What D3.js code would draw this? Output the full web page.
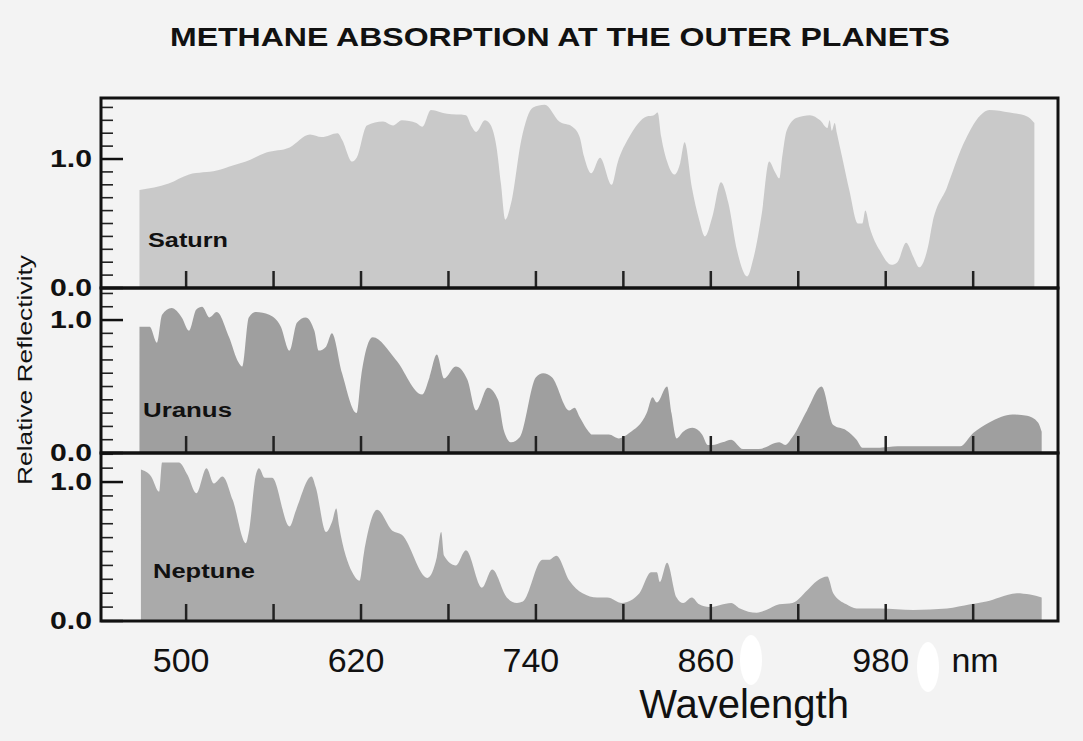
<!DOCTYPE html>
<html>
<head>
<meta charset="utf-8">
<script src="https://cdn.jsdelivr.net/npm/d3@7"></script>
<style>
  html, body { margin: 0; padding: 0; background: #f3f3f3; }
  svg { display: block; }
  text { font-family: "Liberation Sans", Arial, sans-serif; fill: #111; }
</style>
</head>
<body>
<svg id="chart" width="1083" height="741"></svg>
<script>
// Reflectivity spectra: [wavelength nm, relative reflectivity]
const saturn = [
  [468,0.76],[488,0.81],[502,0.88],[521,0.91],[532,0.95],[541,0.98],[555,1.05],[571,1.09],
  [585,1.19],[593,1.17],[604,1.20],[607,1.15],[614,0.98],[617,1.01],[624,1.26],[635,1.29],
  [642,1.26],[648,1.30],[658,1.28],[662,1.25],[668,1.38],[679,1.35],[692,1.34],[696,1.25],
  [699,1.21],[705,1.30],[708,1.28],[713,1.09],[716,0.81],[719,0.53],[723,0.66],[730,1.15],
  [738,1.40],[746,1.42],[756,1.29],[765,1.25],[770,1.17],[773,1.02],[778,0.89],[784,1.01],
  [792,0.80],[796,0.97],[804,1.17],[816,1.33],[821,1.34],[823.5,1.36],[826,1.17],[830,0.98],
  [835,0.88],[839,0.97],[842,1.13],[847,0.78],[852,0.53],[856,0.40],[861,0.55],[867,0.82],
  [872,0.66],[878,0.29],[885,0.09],[889,0.22],[895,0.58],[900,0.98],[904,0.90],[907,0.85],
  [909,1.02],[912,1.22],[919,1.32],[928,1.34],[935,1.30],[940,1.24],[941.5,1.30],[943,1.22],
  [945,1.28],[946.5,1.20],[950,1.02],[955,0.76],[961,0.50],[964,0.50],[966,0.60],[969,0.47],
  [976,0.29],[984,0.18],[988,0.20],[994,0.35],[999,0.24],[1003,0.16],[1009,0.32],[1012,0.50],
  [1022,0.78],[1033,1.11],[1045,1.34],[1051,1.38],[1065,1.36],[1077,1.33],[1082,1.28]
];

const uranus = [
  [468,0.95],[475,0.95],[480,0.83],[483.5,1.04],[490,1.09],[497,1.02],[502,0.92],[507,1.08],
  [511,1.10],[516,1.02],[521,1.06],[529.5,0.87],[536,0.68],[538.5,0.65],[543,1.02],[548,1.06],
  [557,1.04],[565,0.95],[571,0.77],[576,0.98],[582,1.02],[588,0.92],[591,0.77],[596,0.80],
  [600,0.90],[607,0.60],[617,0.30],[620,0.57],[628,0.87],[644,0.70],[662,0.44],[667,0.57],
  [672,0.74],[677,0.56],[685,0.65],[693,0.55],[699,0.32],[707,0.49],[714,0.40],[718,0.17],
  [723,0.08],[729,0.12],[740,0.57],[745,0.60],[751,0.57],[763,0.32],[766.5,0.34],[770,0.27],[777,0.15],
  [778,0.14],[790,0.14],[797,0.11],[804,0.15],[816,0.30],[820,0.42],[823,0.38],[830,0.50],
  [833,0.30],[836.5,0.11],[841,0.16],[847.5,0.19],[854,0.14],[858,0.06],[861,0.06],[868,0.08],
  [874,0.10],[882,0.03],[893,0.03],[907,0.08],[911,0.06],[916,0.12],[926,0.32],[936,0.50],
  [944,0.21],[953,0.17],[960,0.10],[964,0.04],[976,0.04],[988,0.05],[1022,0.05],[1031,0.05],
  [1040,0.15],[1051,0.23],[1067,0.29],[1077,0.28],[1084.5,0.23],[1087,0.16]
];

const neptune = [
  [469,1.09],[476,1.04],[481.5,0.93],[483.5,1.14],[490,1.14],[495,1.14],[501,1.05],[507,0.92],
  [514,1.10],[519,0.99],[525,1.04],[532,0.87],[541,0.56],[543,0.64],[548,1.06],[550,1.10],
  [554,1.03],[559,1.03],[571,0.68],[575.5,0.80],[586,1.04],[589,0.96],[596,0.64],[600,0.71],
  [603,0.81],[605,0.68],[614,0.35],[619,0.29],[622,0.49],[631,0.80],[641.5,0.65],[648,0.62],
  [665.5,0.31],[672,0.46],[675,0.64],[677,0.47],[685,0.40],[692,0.51],[703,0.24],[710,0.37],
  [720,0.17],[727,0.13],[731,0.14],[744.5,0.44],[749,0.44],[754,0.47],[763,0.29],[772,0.20],
  [782,0.17],[789,0.17],[799,0.13],[811,0.20],[819,0.35],[823,0.35],[825,0.28],[830,0.42],
  [836.5,0.17],[841,0.13],[847,0.17],[852,0.12],[859,0.10],[874,0.13],[880,0.09],[891.5,0.06],
  [898,0.08],[907,0.12],[916,0.13],[926,0.22],[933,0.29],[940,0.32],[944,0.20],[953,0.12],
  [960,0.09],[976,0.09],[999,0.08],[1022,0.09],[1038,0.12],[1049,0.14],[1058,0.17],[1070,0.20],
  [1079,0.19],[1087,0.17]
];

const planetNames = ["Saturn", "Uranus", "Neptune"];
const wavelengthTicks = [500, 560, 620, 680, 740, 800, 860, 920, 980, 1040];
const wavelengthLabels = [500, 620, 740, 860, 980];
const yLabelValues = [0, 1];

const svg = d3.select("#chart");
const left = 101, right = 1058;

const x = d3.scaleLinear().domain([441.6, 1098.2]).range([left, right]);

const panels = [
  { name: planetNames[0], data: saturn,  top: 98,  bottom: 288, yMax: 1.473, fill: "#c9c9c9", label: [148, 247, 80] },
  { name: planetNames[1], data: uranus,  top: 288, bottom: 453, yMax: 1.241, fill: "#9f9f9f", label: [143, 417, 89] },
  { name: planetNames[2], data: neptune, top: 453, bottom: 621, yMax: 1.209, fill: "#aaaaaa", label: [153, 578, 102] }
];

// Title
svg.append("text")
  .attr("x", 170).attr("y", 46)
  .attr("font-size", 25).attr("font-weight", "bold")
  .attr("textLength", 780).attr("lengthAdjust", "spacingAndGlyphs")
  .text("METHANE ABSORPTION AT THE OUTER PLANETS");

panels.forEach(p => {
  const y = d3.scaleLinear().domain([0, p.yMax]).range([p.bottom, p.top]);
  const g = svg.append("g");

  // spectrum as filled area
  const area = d3.area()
    .x(d => x(d[0]))
    .y0(y(0))
    .y1(d => y(d[1]))
    .curve(d3.curveMonotoneX);
  g.append("path").datum(p.data)
    .attr("d", area)
    .attr("fill", p.fill);

  // wavelength ticks along the panel floor
  g.selectAll("line.xt").data(wavelengthTicks).join("line")
    .attr("x1", d => x(d)).attr("x2", d => x(d))
    .attr("y1", p.bottom).attr("y2", p.bottom - 17)
    .attr("stroke", "#222").attr("stroke-width", 2.5);

  // minor reflectivity ticks every 0.1
  const minor = d3.range(1, Math.floor(p.yMax * 10 + 1e-6) + 1).map(i => i / 10).filter(v => Math.abs(v - 1) > 1e-6);
  g.selectAll("line.ym").data(minor).join("line")
    .attr("x1", left).attr("x2", left + 12)
    .attr("y1", d => y(d)).attr("y2", d => y(d))
    .attr("stroke", "#222").attr("stroke-width", 1.6);

  // major ticks at 0 and 1
  g.selectAll("line.yM").data(yLabelValues).join("line")
    .attr("x1", left).attr("x2", left + 22)
    .attr("y1", d => y(d)).attr("y2", d => y(d))
    .attr("stroke", "#111").attr("stroke-width", 2.5);

  g.selectAll("text.yl").data(yLabelValues).join("text")
    .attr("x", 50).attr("y", d => y(d) + 8)
    .attr("font-size", 24).attr("font-weight", "bold")
    .attr("textLength", 42).attr("lengthAdjust", "spacingAndGlyphs")
    .text(d => d3.format(".1f")(d));

  // panel frame
  g.append("rect")
    .attr("x", left).attr("y", p.top)
    .attr("width", right - left).attr("height", p.bottom - p.top)
    .attr("fill", "none").attr("stroke", "#111").attr("stroke-width", 3);

  // planet name
  g.append("text")
    .attr("x", p.label[0]).attr("y", p.label[1])
    .attr("font-size", 20).attr("font-weight", "bold")
    .attr("textLength", p.label[2]).attr("lengthAdjust", "spacingAndGlyphs")
    .text(p.name);
});

// Wavelength labels
svg.selectAll("text.xl").data(wavelengthLabels).join("text")
  .attr("x", d => x(d) - 5).attr("y", 672)
  .attr("text-anchor", "middle")
  .attr("font-size", 34)
  .text(d => d);

svg.append("text")
  .attr("x", 975).attr("y", 672)
  .attr("text-anchor", "middle").attr("font-size", 34)
  .text("nm");

svg.append("text")
  .attr("x", 744).attr("y", 718)
  .attr("text-anchor", "middle").attr("font-size", 40)
  .text("Wavelength");

// Y axis title
svg.append("text")
  .attr("transform", "translate(32,370) rotate(-90)")
  .attr("text-anchor", "middle")
  .attr("font-size", 21)
  .attr("textLength", 230).attr("lengthAdjust", "spacingAndGlyphs")
  .text("Relative Reflectivity");

// blank patches beside the lower labels
svg.selectAll("ellipse.patch").data([[751, 660], [928, 667]]).join("ellipse")
  .attr("cx", d => d[0]).attr("cy", d => d[1])
  .attr("rx", 11).attr("ry", 25)
  .attr("fill", "#ffffff");
</script>
</body>
</html>
